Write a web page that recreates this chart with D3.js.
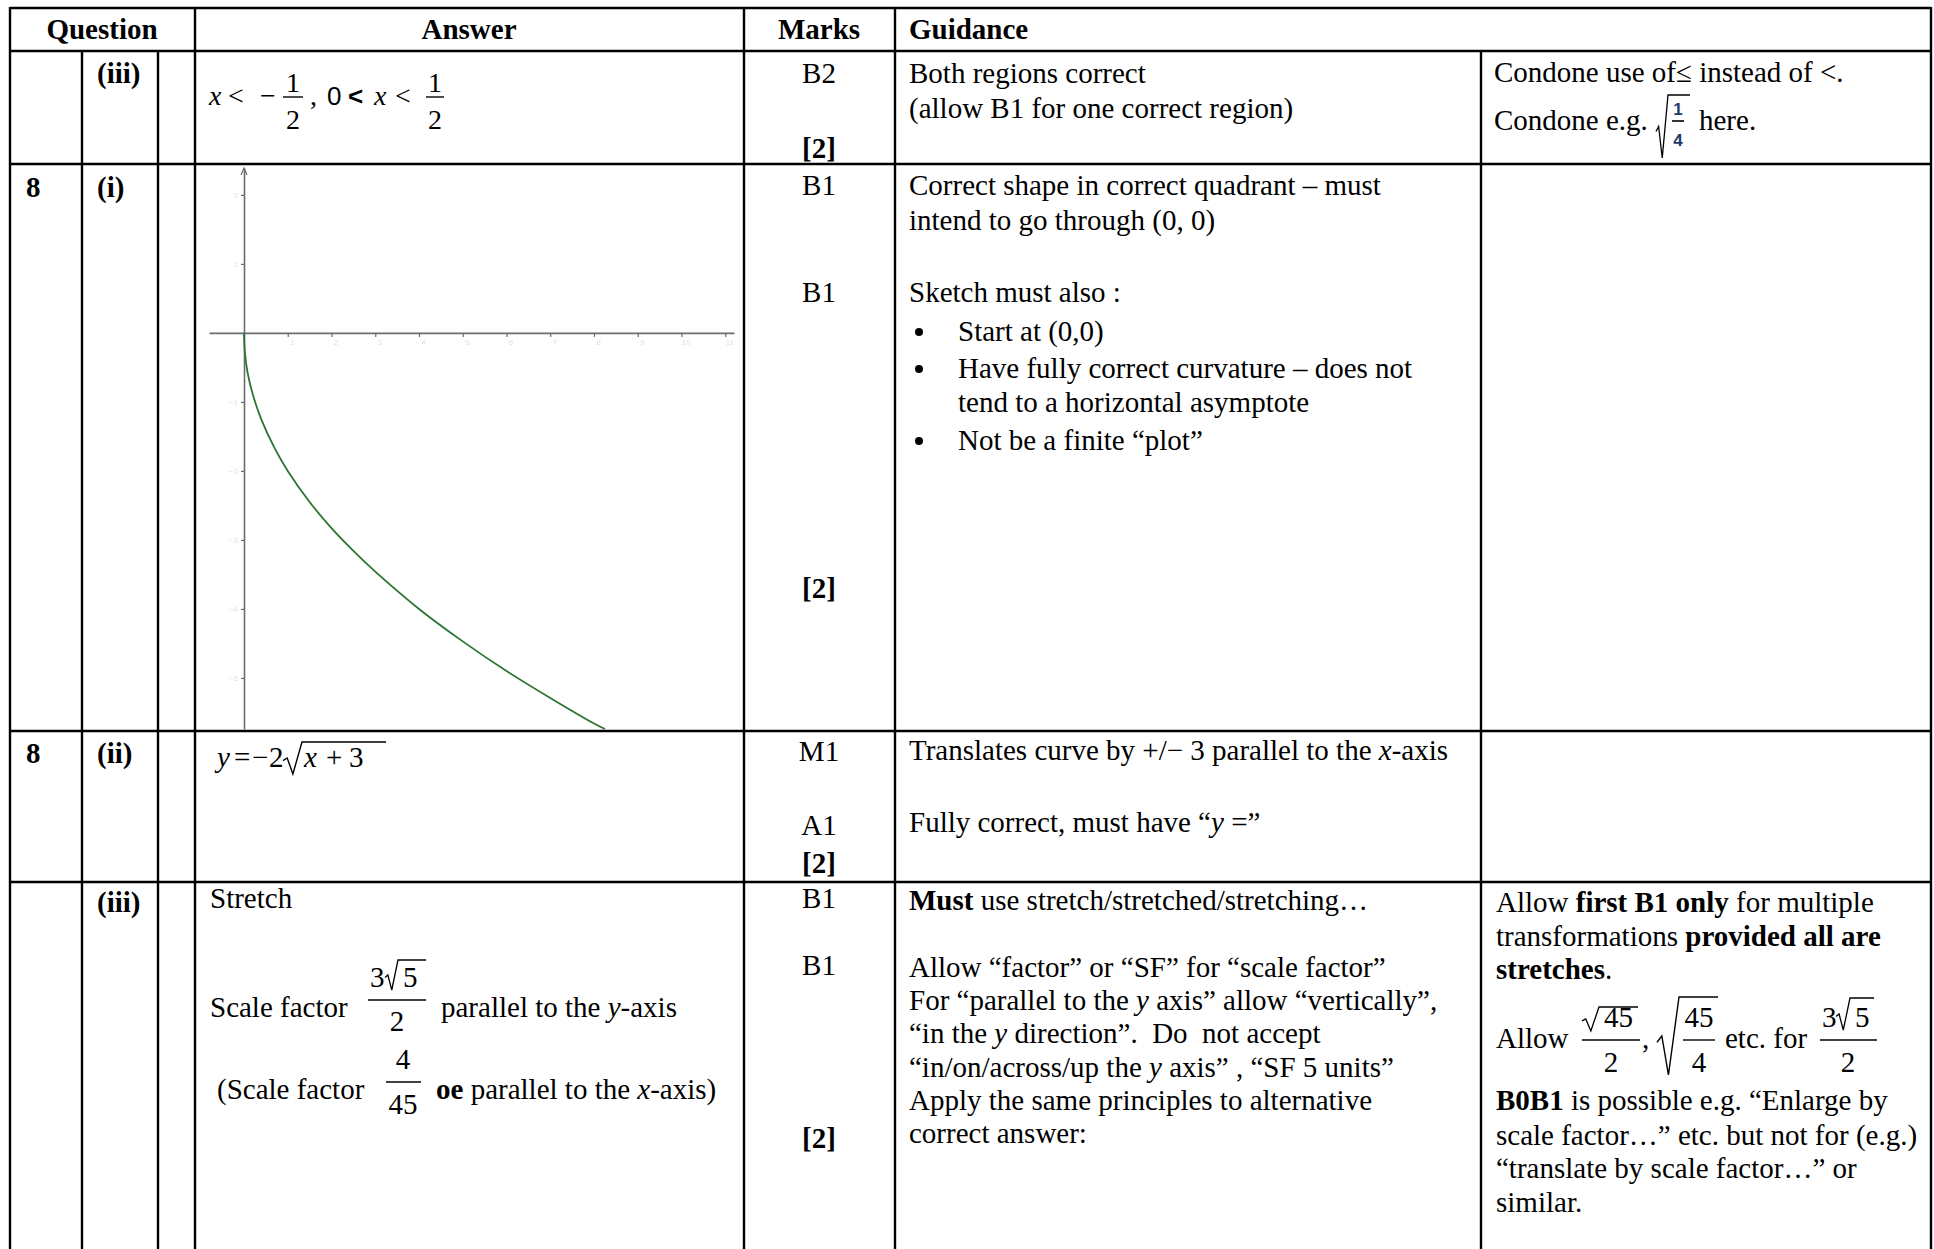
<!DOCTYPE html>
<html>
<head>
<meta charset="utf-8">
<script src="https://cdn.jsdelivr.net/npm/d3@7"></script>
<style>
  body { margin: 0; background: #fff; }
  svg text { font-family: "Liberation Serif", "Times New Roman", serif; font-size: 29px; white-space: pre; fill: #000; }
</style>
</head>
<body>
<div id="sheet"></div>
<script>
// sketch of y = -2 sqrt(x) (units of the sketch axes)
var curveX = [0, 0.02, 0.08, 0.2, 0.4, 0.7, 1, 1.5, 2, 2.5, 3, 4, 5, 6, 7, 8, 8.25];
var curveY = [0, -0.28, -0.57, -0.89, -1.26, -1.67, -2, -2.45, -2.83, -3.16, -3.46, -4, -4.47, -4.9, -5.29, -5.66, -5.74];
var xTicks = [1, 2, 3, 4, 5, 6, 7, 8, 9, 10, 11];
var yTicks = [2, 1, -1, -2, -3, -4, -5];

// mark scheme text
var headers = ["Question", "Answer", "Marks", "Guidance"];
var marksCol = [
  ["B2", 83], ["[2]", 158, true],
  ["B1", 195], ["B1", 302], ["[2]", 598, true],
  ["M1", 761], ["A1", 835], ["[2]", 873, true],
  ["B1", 908], ["B1", 975], ["[2]", 1148, true]
];

var W = 1934, H = 1249;
var cols = [10, 82, 158, 195, 744, 895, 1481, 1931];
var rowLines = [8, 51, 164, 731, 882];

var svg = d3.select("#sheet").append("svg")
  .attr("width", W)
  .attr("height", H);

// ---- text helpers
function txt(x, y, parts, anchor, size, family) {
  var t = svg.append("text")
    .attr("x", x)
    .attr("y", y)
    .attr("text-anchor", anchor || "start");
  if (size) t.style("font-size", size + "px");
  if (family) t.style("font-family", family);
  if (typeof parts === "string") parts = [[parts]];
  parts.forEach(function(p) {
    var s = t.append("tspan").text(p[0]);
    var f = p[1] || "";
    if (f.indexOf("b") >= 0) s.attr("font-weight", "bold");
    if (f.indexOf("i") >= 0) s.attr("font-style", "italic");
  });
  return t;
}

function hline(x0, x1, y, w) {
  svg.append("line").attr("x1", x0).attr("x2", x1).attr("y1", y).attr("y2", y)
    .attr("stroke", "#000").attr("stroke-width", w || 1.4);
}

function radical(x0, x1, yTop, yBot, xEnd, w) {
  var h = yBot - yTop, p = d3.path();
  p.moveTo(x0, yBot - 0.42 * h);
  p.lineTo(x0 + 0.22 * (x1 - x0), yBot - 0.5 * h);
  p.lineTo(x0 + 0.52 * (x1 - x0), yBot);
  p.lineTo(x1, yTop);
  p.lineTo(xEnd, yTop);
  svg.append("path").attr("d", p.toString())
    .attr("fill", "none").attr("stroke", "#000")
    .attr("stroke-width", w || 1.4).attr("stroke-linejoin", "miter");
}

function frac(cx, x0, x1, barY, top, bottom, up, down, size) {
  txt(cx, barY - (up || 13), top, "middle", size);
  hline(x0, x1, barY, 1.4);
  txt(cx, barY + (down || 32), bottom, "middle", size);
}

// ---- table grid
rowLines.forEach(function(y) { hline(cols[0], cols[7], y, 2.4); });
[0, 3, 4, 5, 7].forEach(function(i) {
  svg.append("line").attr("x1", cols[i]).attr("x2", cols[i]).attr("y1", rowLines[0] - 1).attr("y2", H)
    .attr("stroke", "#000").attr("stroke-width", 2.4);
});
[1, 2, 6].forEach(function(i) {
  svg.append("line").attr("x1", cols[i]).attr("x2", cols[i]).attr("y1", rowLines[1]).attr("y2", H)
    .attr("stroke", "#000").attr("stroke-width", 2.4);
});

// ---- header
txt(102, 39, [[headers[0], "b"]], "middle");
txt(469, 39, [[headers[1], "b"]], "middle");
txt(819, 39, [[headers[2], "b"]], "middle");
txt(909, 39, [[headers[3], "b"]]);

// ---- question column
txt(97, 83, [["(iii)", "b"]]);
txt(26, 197, [["8", "b"]]);
txt(97, 197, [["(i)", "b"]]);
txt(26, 763, [["8", "b"]]);
txt(97, 763, [["(ii)", "b"]]);
txt(97, 912, [["(iii)", "b"]]);

// ---- marks column
marksCol.forEach(function(m) {
  txt(819, m[1], [[m[0], m[2] ? "b" : ""]], "middle");
});

// ---- row 1 answer: x < -1/2 , 0 < x < 1/2
txt(209, 105, [["x", "i"]], "start", 28);
txt(228, 105, "<", "start", 28);
txt(260, 105, "\u2212", "start", 28);
frac(293, 283, 303, 97, "1", "2", 5, 32, 28);
txt(310, 105, ",", "start", 28);
txt(327, 105, "0", "start", 26, "Liberation Sans, Arial, sans-serif");
txt(348, 105, [["<", "b"]], "start", 26, "Liberation Sans, Arial, sans-serif");
txt(374, 105, [["x", "i"]], "start", 28);
txt(395, 105, "<", "start", 28);
frac(435, 426, 444, 97, "1", "2", 5, 32, 28);

// row 1 guidance
txt(909, 83, "Both regions correct");
txt(909, 118, "(allow B1 for one correct region)");
txt(1494, 82, "Condone use of\u2264 instead of <.");
txt(1494, 130, "Condone e.g.");
radical(1656, 1668, 95, 158, 1690, 1.3);
txt(1678, 115, [["1", "b"]], "middle", 17, "Liberation Sans, Arial, sans-serif").style("fill", "#1f3a6b");
hline(1672, 1684, 121, 1.6);
txt(1678, 146, [["4", "b"]], "middle", 17, "Liberation Sans, Arial, sans-serif").style("fill", "#1f3a6b");
txt(1699, 130, "here.");

// ---- row 2 answer: sketch
var x = d3.scaleLinear().domain([-0.8, 11.2]).range([209, 734]);
var y = d3.scaleLinear().domain([2.39, -5.74]).range([168, 729]);

var gx = svg.append("g")
  .attr("transform", "translate(0," + y(0) + ")")
  .call(d3.axisBottom(x).tickValues(xTicks).tickSizeInner(4).tickSizeOuter(0).tickPadding(2));
var gy = svg.append("g")
  .attr("transform", "translate(" + x(0) + ",0)")
  .call(d3.axisLeft(y).tickValues(yTicks).tickSizeInner(3).tickSizeOuter(0).tickPadding(3));

[gx, gy].forEach(function(g) {
  g.select(".domain").attr("stroke", "#6b6b6b").attr("stroke-width", 1.6);
  g.selectAll(".tick line").attr("stroke", "#6b6b6b").attr("stroke-width", 1.2);
  g.selectAll(".tick text").style("font-size", "8px").style("font-family", "Liberation Sans, sans-serif")
    .style("fill", "#e2e2e2");
});
gx.selectAll(".tick text").attr("dx", "4px");

// arrow on y axis
svg.append("path")
  .attr("d", d3.line()([[x(0) - 3, y(2.39) + 7], [x(0), y(2.39)], [x(0) + 3, y(2.39) + 7]]))
  .attr("fill", "none").attr("stroke", "#6b6b6b").attr("stroke-width", 1.2);

var pts = curveX.map(function(v, i) { return [v, curveY[i]]; });
svg.append("path")
  .datum(pts)
  .attr("fill", "none")
  .attr("stroke", "#2d7431")
  .attr("stroke-width", 1.8)
  .attr("d", d3.line()
    .x(function(d) { return x(d[0]); })
    .y(function(d) { return y(d[1]); })
    .curve(d3.curveCatmullRom));

// row 2 guidance
txt(909, 195, "Correct shape in correct quadrant \u2013 must");
txt(909, 230, "intend to go through (0, 0)");
txt(909, 302, "Sketch must also :");
[341, 378, 450].forEach(function(b) {
  svg.append("circle").attr("cx", 919).attr("cy", b - 9).attr("r", 4).attr("fill", "#000");
});
txt(958, 341, "Start at (0,0)");
txt(958, 378, "Have fully correct curvature \u2013 does not");
txt(958, 412, "tend to a horizontal asymptote");
txt(958, 450, "Not be a finite \u201cplot\u201d");

// ---- row 3 answer: y = -2 sqrt(x + 3)
txt(217, 767, [["y", "i"]]);
txt(234, 767, "=");
txt(252, 767, "\u2212");
txt(269, 767, "2");
radical(283, 302, 742, 774, 386, 1.4);
txt(304, 767, [["x", "i"]]);
txt(326, 767, "+");
txt(349, 767, "3");

txt(909, 760, [["Translates curve by +/\u2212 3 parallel to the "], ["x", "i"], ["-axis"]]);
txt(909, 832, [["Fully correct, must have \u201c"], ["y", "i"], [" =\u201d"]]);

// ---- row 4 answer
txt(210, 908, "Stretch");
txt(210, 1017, "Scale factor");
txt(370, 987, "3");
radical(385, 398, 960, 990, 426, 1.3);
txt(403, 987, "5");
hline(368, 426, 1000, 1.4);
txt(397, 1031, "2", "middle");
txt(441, 1017, [["parallel to the "], ["y", "i"], ["-axis"]]);

txt(217, 1099, "(Scale factor");
frac(403, 386, 421, 1082, "4", "45");
txt(436, 1099, [["oe", "b"], [" parallel to the "], ["x", "i"], ["-axis)"]]);

// row 4 guidance
txt(909, 910, [["Must", "b"], [" use stretch/stretched/stretching\u2026"]]);
txt(909, 977, "Allow \u201cfactor\u201d or \u201cSF\u201d for \u201cscale factor\u201d");
txt(909, 1010, [["For \u201cparallel to the "], ["y", "i"], [" axis\u201d allow \u201cvertically\u201d,"]]);
txt(909, 1043, [["\u201cin the "], ["y", "i"], [" direction\u201d.  Do  not accept"]]);
txt(909, 1077, [["\u201cin/on/across/up the "], ["y", "i"], [" axis\u201d , \u201cSF 5 units\u201d"]]);
txt(909, 1110, "Apply the same principles to alternative");
txt(909, 1143, "correct answer:");

// row 4 right column
txt(1496, 912, [["Allow "], ["first B1 only", "b"], [" for multiple"]]);
txt(1496, 946, [["transformations "], ["provided all are", "b"]]);
txt(1496, 979, [["stretches", "b"], ["."]]);
txt(1496, 1048, "Allow");
radical(1582, 1599, 1007, 1031, 1638, 1.3);
txt(1604, 1027, "45");
hline(1582, 1640, 1040, 1.4);
txt(1611, 1072, "2", "middle");
txt(1642, 1048, ",");
radical(1657, 1679, 997, 1075, 1718, 1.4);
txt(1699, 1027, "45", "middle");
hline(1683, 1715, 1040, 1.4);
txt(1699, 1072, "4", "middle");
txt(1725, 1048, "etc. for");
txt(1822, 1027, "3");
radical(1836, 1850, 998, 1030, 1874, 1.3);
txt(1855, 1027, "5");
hline(1820, 1877, 1040, 1.4);
txt(1848, 1072, "2", "middle");
txt(1496, 1110, [["B0B1", "b"], [" is possible e.g. \u201cEnlarge by"]]);
txt(1496, 1145, "scale factor\u2026\u201d etc. but not for (e.g.)");
txt(1496, 1178, "\u201ctranslate by scale factor\u2026\u201d or");
txt(1496, 1212, "similar.");
</script>
</body>
</html>
